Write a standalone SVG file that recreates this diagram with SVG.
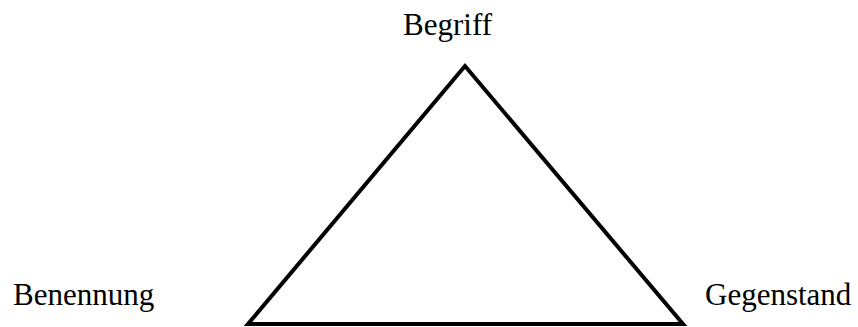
<svg xmlns="http://www.w3.org/2000/svg" width="858" height="327" viewBox="0 0 858 327">
<style>
text{font-family:"Liberation Serif","Times New Roman",serif;font-size:31px;fill:#000}
.edge{fill:none;stroke:#000;stroke-width:4;stroke-linejoin:miter}
</style>
<rect width="858" height="327" fill="#fff"/>
<g id="connectors">
<polygon class="edge" points="465,66 248,324 683,324"/>
</g>
<g id="begriff"><text x="447.5" y="35" text-anchor="middle">Begriff</text></g>
<g id="benennung"><text x="13" y="305">Benennung</text></g>
<g id="gegenstand"><text x="705" y="305">Gegenstand</text></g>
</svg>
